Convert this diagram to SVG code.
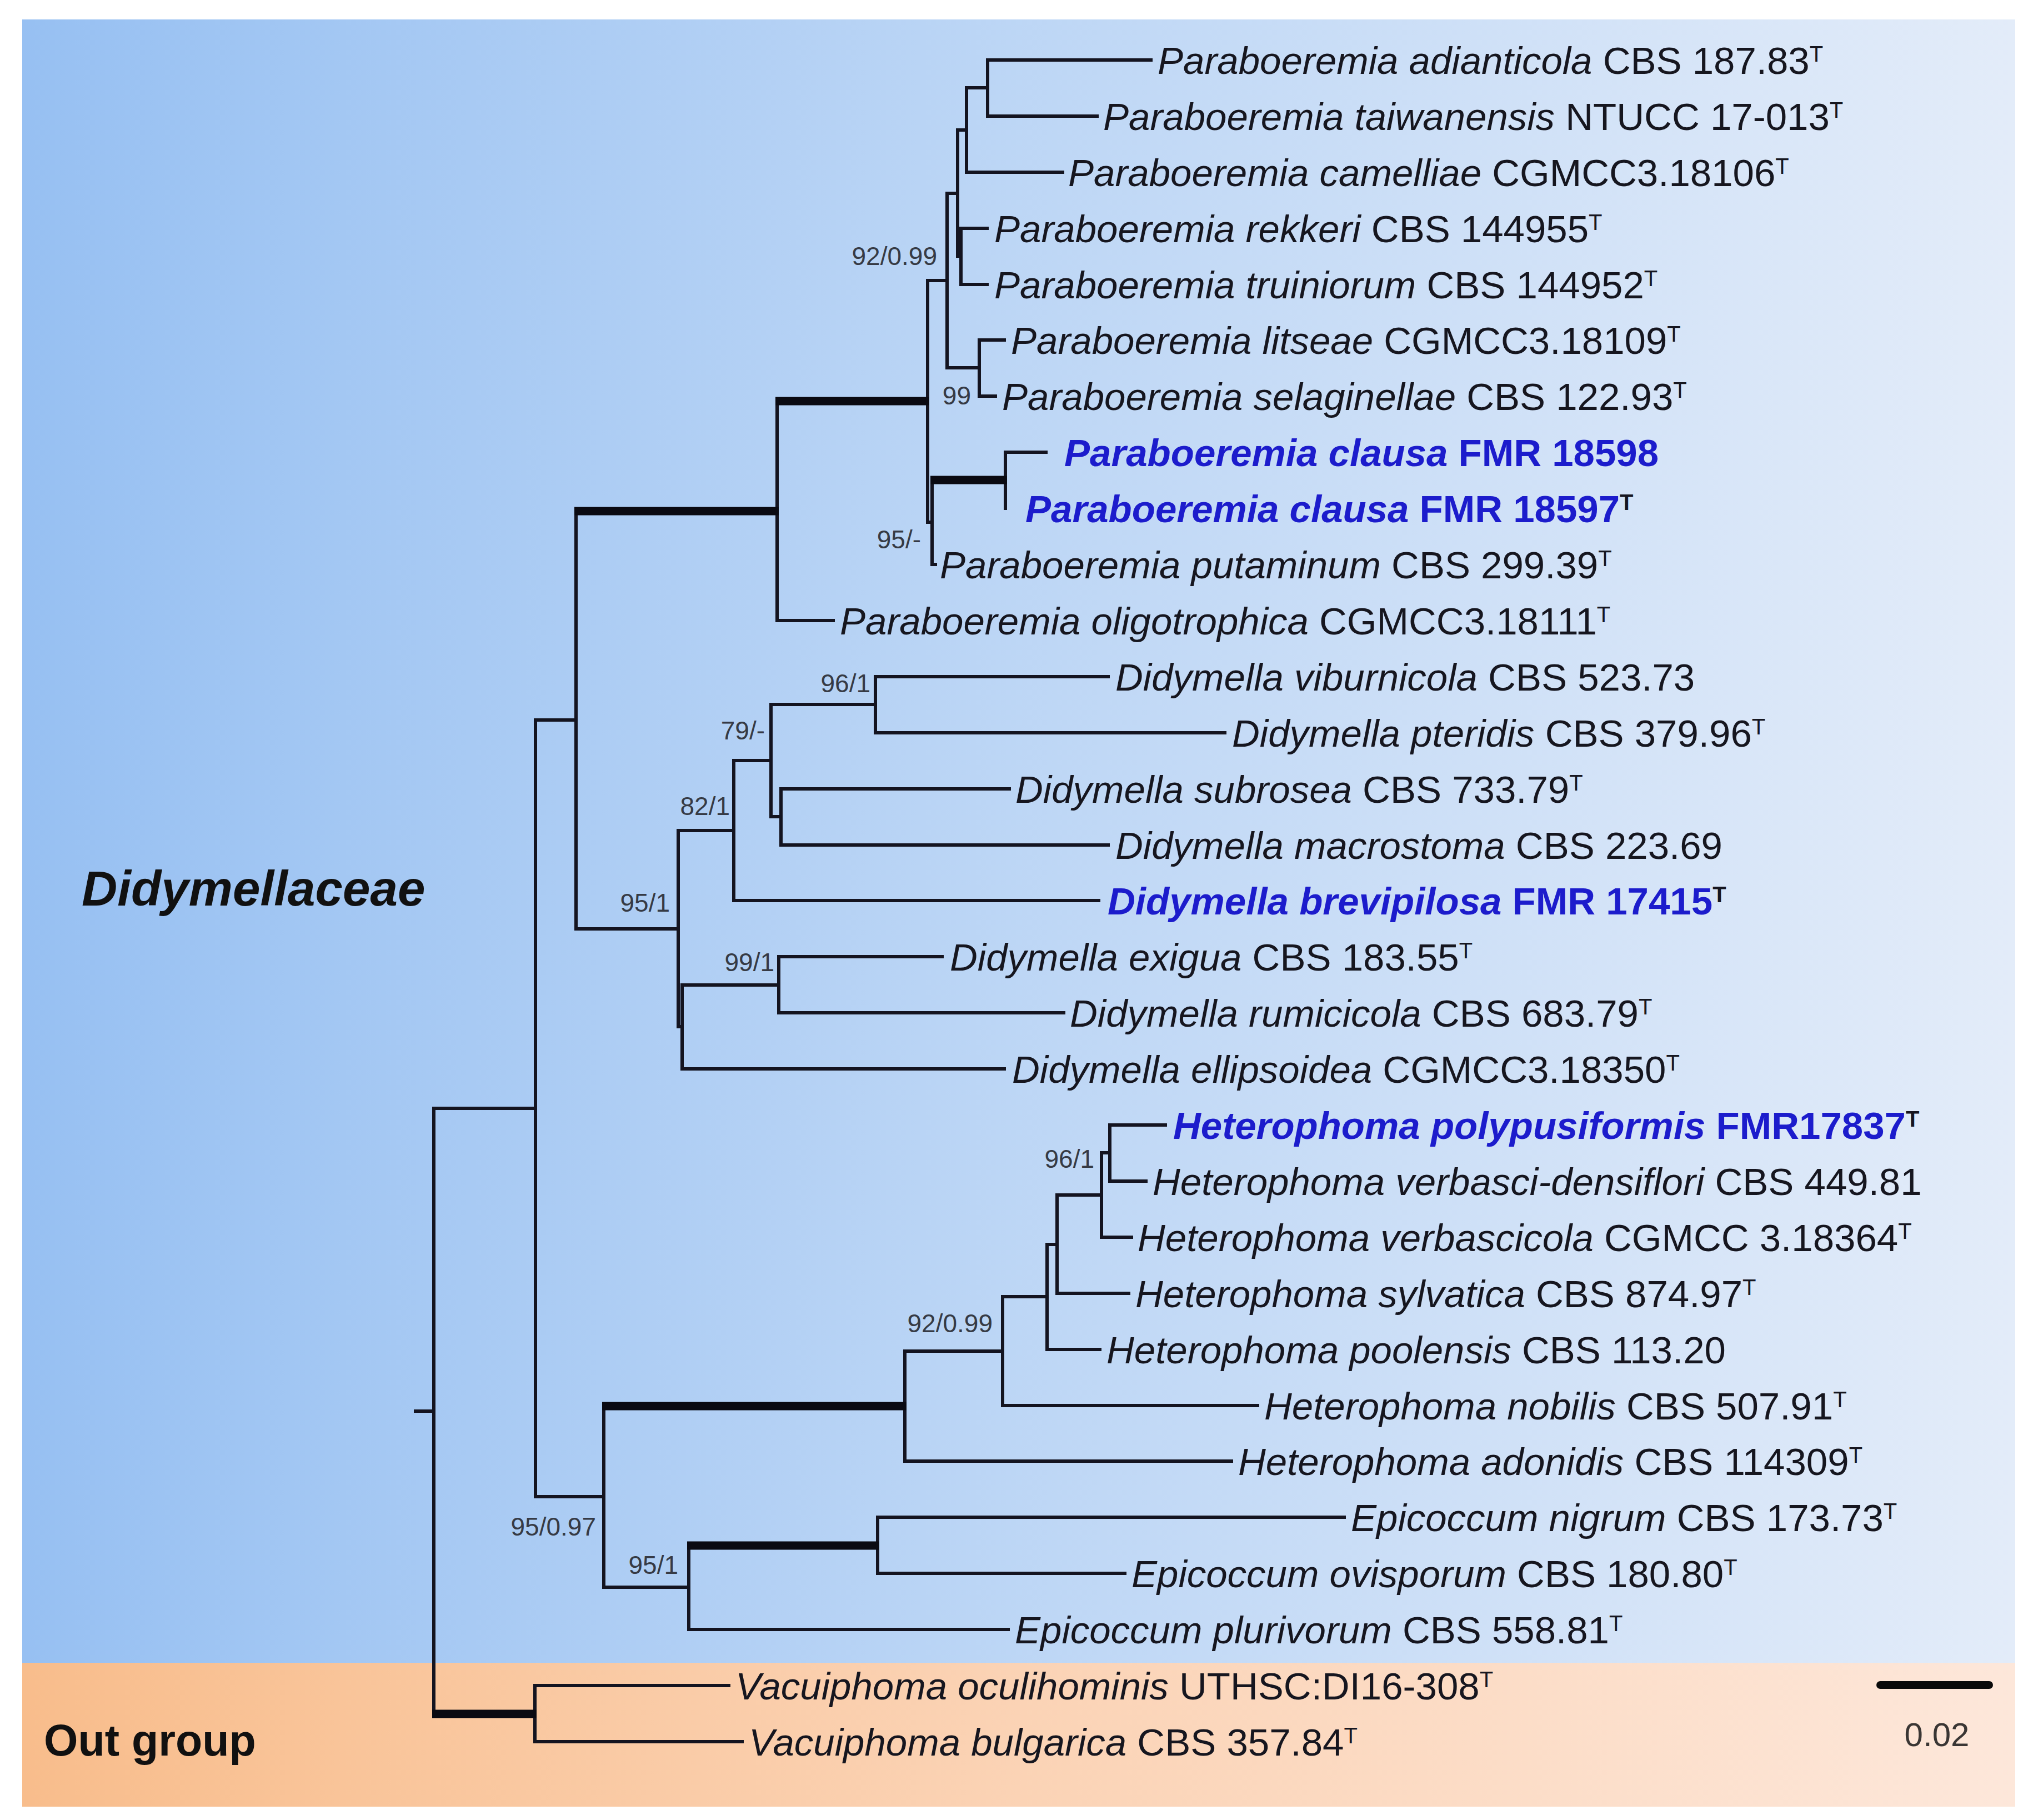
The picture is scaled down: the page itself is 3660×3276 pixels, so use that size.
<svg xmlns="http://www.w3.org/2000/svg" width="3660" height="3276" viewBox="0 0 3660 3276">
<defs>
<linearGradient id="gBlue" x1="0" y1="0" x2="1" y2="0">
<stop offset="0" stop-color="#97c0f2"/>
<stop offset="0.45" stop-color="#b9d4f5"/>
<stop offset="1" stop-color="#e3ecf9"/>
</linearGradient>
<linearGradient id="gOrange" x1="0" y1="0" x2="1" y2="0">
<stop offset="0" stop-color="#f8bd8c"/>
<stop offset="0.5" stop-color="#fbd3b5"/>
<stop offset="1" stop-color="#fde7da"/>
</linearGradient>
<style>
.br{fill:none;stroke:#141420;stroke-width:6;stroke-linecap:square}
.thick{fill:none;stroke:#0a0a12;stroke-width:15;stroke-linecap:butt}
.tip{font-family:"Liberation Sans",Arial,sans-serif;font-size:69px;fill:#16161f}
.sp{font-style:italic}
.sup{font-size:40px}
.new{fill:#1c1ccc;font-weight:bold}
.supk{fill:#16161f}
.bs{font-family:"Liberation Sans",Arial,sans-serif;font-size:46px;fill:#363a44;text-anchor:end}
.grp{font-family:"Liberation Sans",Arial,sans-serif;font-weight:bold;fill:#111}
</style>
</defs>
<rect x="0" y="0" width="3660" height="3276" fill="#ffffff"/>
<g id="background">
<rect x="40" y="35" width="3588" height="2958" fill="url(#gBlue)"/>
<rect x="40" y="2993" width="3588" height="259" fill="url(#gOrange)"/>
</g>
<g id="group-labels">
<text id="label-didymellaceae" class="grp" x="147" y="1630" font-size="89" font-style="italic">Didymellaceae</text>
<text id="label-outgroup" class="grp" x="79" y="3160" font-size="79">Out group</text>
</g>
<g id="connectors">
<path class="br" d="M748,2540 H781 M781,1995 V3085 M781,1995 H964 M964,1296 V2694 M964,1296 H1037 M964,2694 H1087 M1037,920 V1672 M1037,1672 H1221"/>
<path class="br" d="M1399,722 V1117 M1399,1117 H1500 M1670,505 V940 M1670,505 H1705 M1670,940 H1678 M1705,348 V662 M1705,348 H1724 M1705,662 H1763 M1724,234 V461 M1724,234 H1740 M1724,461 H1730 M1740,158 V310 M1740,158 H1778 M1740,310 H1913 M1778,108 V209 M1778,108 H2072 M1778,209 H1975 M1730,411 V512 M1730,411 H1777 M1730,512 H1777 M1763,612 V713 M1763,612 H1808 M1763,713 H1792 M1678,864 V1016 M1678,1016 H1684 M1810,814 V915 M1810,814 H1883"/>
<path class="br" d="M1221,1495 V1848 M1221,1495 H1321 M1221,1848 H1228 M1321,1369 V1621 M1321,1369 H1388 M1321,1621 H1978 M1388,1268 V1470 M1388,1268 H1576 M1388,1470 H1406 M1576,1218 V1319 M1576,1218 H1995 M1576,1319 H2205 M1406,1420 V1521 M1406,1420 H1817 M1406,1521 H1995 M1228,1773 V1924 M1228,1773 H1402 M1228,1924 H1808 M1402,1722 V1823 M1402,1722 H1696 M1402,1823 H1915"/>
<path class="br" d="M1087,2531 V2857 M1087,2857 H1240 M1629,2432 V2630 M1629,2432 H1805 M1629,2630 H2217 M1805,2334 V2530 M1805,2530 H2264 M1805,2334 H1885 M1885,2240 V2429 M1885,2429 H1980 M1885,2240 H1903 M1903,2151 V2328 M1903,2328 H2032 M1903,2151 H1983 M1983,2075 V2227 M1983,2227 H2037 M1983,2075 H1998 M1998,2025 V2126 M1998,2025 H2098 M1998,2126 H2063 M1240,2782 V2933 M1240,2933 H1815 M1580,2731 V2832 M1580,2731 H2420 M1580,2832 H2025 M963,3034 V3135 M963,3034 H1312 M963,3135 H1336"/>
<path class="thick" d="M1034,920 H1402 M1396,722 H1673 M1675,864 H1813 M1084,2531 H1632 M1237,2782 H1583 M778,3085 H966"/>
</g>
<g id="support-values">
<text class="bs" x="1687" y="477">92/0.99</text>
<text class="bs" x="1748" y="728">99</text>
<text class="bs" x="1658" y="987">95/-</text>
<text class="bs" x="1567" y="1246">96/1</text>
<text class="bs" x="1377" y="1331">79/-</text>
<text class="bs" x="1314" y="1467">82/1</text>
<text class="bs" x="1206" y="1641">95/1</text>
<text class="bs" x="1394" y="1748">99/1</text>
<text class="bs" x="1970" y="2102">96/1</text>
<text class="bs" x="1787" y="2398">92/0.99</text>
<text class="bs" x="1073" y="2764">95/0.97</text>
<text class="bs" x="1221" y="2833">95/1</text>
</g>
<g id="tips">
<g id="tip-01"><text class="tip" x="2084" y="133"><tspan class="sp">Paraboeremia adianticola</tspan> CBS 187.83<tspan class="sup" dy="-22">T</tspan></text></g>
<g id="tip-02"><text class="tip" x="1986" y="234"><tspan class="sp">Paraboeremia taiwanensis</tspan> NTUCC 17-013<tspan class="sup" dy="-22">T</tspan></text></g>
<g id="tip-03"><text class="tip" x="1923" y="335"><tspan class="sp">Paraboeremia camelliae</tspan> CGMCC3.18106<tspan class="sup" dy="-22">T</tspan></text></g>
<g id="tip-04"><text class="tip" x="1790" y="436"><tspan class="sp">Paraboeremia rekkeri</tspan> CBS 144955<tspan class="sup" dy="-22">T</tspan></text></g>
<g id="tip-05"><text class="tip" x="1790" y="537"><tspan class="sp">Paraboeremia truiniorum</tspan> CBS 144952<tspan class="sup" dy="-22">T</tspan></text></g>
<g id="tip-06"><text class="tip" x="1820" y="637"><tspan class="sp">Paraboeremia litseae</tspan> CGMCC3.18109<tspan class="sup" dy="-22">T</tspan></text></g>
<g id="tip-07"><text class="tip" x="1804" y="738"><tspan class="sp">Paraboeremia selaginellae</tspan> CBS 122.93<tspan class="sup" dy="-22">T</tspan></text></g>
<g id="tip-08"><text class="tip new" x="1916" y="839"><tspan class="sp">Paraboeremia clausa</tspan> FMR 18598</text></g>
<g id="tip-09"><text class="tip new" x="1846" y="940"><tspan class="sp">Paraboeremia clausa</tspan> FMR 18597<tspan class="sup supk" dy="-22">T</tspan></text></g>
<g id="tip-10"><text class="tip" x="1692" y="1041"><tspan class="sp">Paraboeremia putaminum</tspan> CBS 299.39<tspan class="sup" dy="-22">T</tspan></text></g>
<g id="tip-11"><text class="tip" x="1512" y="1142"><tspan class="sp">Paraboeremia oligotrophica</tspan> CGMCC3.18111<tspan class="sup" dy="-22">T</tspan></text></g>
<g id="tip-12"><text class="tip" x="2008" y="1243"><tspan class="sp">Didymella viburnicola</tspan> CBS 523.73</text></g>
<g id="tip-13"><text class="tip" x="2218" y="1344"><tspan class="sp">Didymella pteridis</tspan> CBS 379.96<tspan class="sup" dy="-22">T</tspan></text></g>
<g id="tip-14"><text class="tip" x="1828" y="1445"><tspan class="sp">Didymella subrosea</tspan> CBS 733.79<tspan class="sup" dy="-22">T</tspan></text></g>
<g id="tip-15"><text class="tip" x="2008" y="1546"><tspan class="sp">Didymella macrostoma</tspan> CBS 223.69</text></g>
<g id="tip-16"><text class="tip new" x="1994" y="1646"><tspan class="sp">Didymella brevipilosa</tspan> FMR 17415<tspan class="sup supk" dy="-22">T</tspan></text></g>
<g id="tip-17"><text class="tip" x="1710" y="1747"><tspan class="sp">Didymella exigua</tspan> CBS 183.55<tspan class="sup" dy="-22">T</tspan></text></g>
<g id="tip-18"><text class="tip" x="1926" y="1848"><tspan class="sp">Didymella rumicicola</tspan> CBS 683.79<tspan class="sup" dy="-22">T</tspan></text></g>
<g id="tip-19"><text class="tip" x="1822" y="1949"><tspan class="sp">Didymella ellipsoidea</tspan> CGMCC3.18350<tspan class="sup" dy="-22">T</tspan></text></g>
<g id="tip-20"><text class="tip new" x="2112" y="2050"><tspan class="sp">Heterophoma polypusiformis</tspan> FMR17837<tspan class="sup supk" dy="-22">T</tspan></text></g>
<g id="tip-21"><text class="tip" x="2075" y="2151"><tspan class="sp">Heterophoma verbasci-densiflori</tspan> CBS 449.81</text></g>
<g id="tip-22"><text class="tip" x="2048" y="2252"><tspan class="sp">Heterophoma verbascicola</tspan> CGMCC 3.18364<tspan class="sup" dy="-22">T</tspan></text></g>
<g id="tip-23"><text class="tip" x="2044" y="2353"><tspan class="sp">Heterophoma sylvatica</tspan> CBS 874.97<tspan class="sup" dy="-22">T</tspan></text></g>
<g id="tip-24"><text class="tip" x="1992" y="2454"><tspan class="sp">Heterophoma poolensis</tspan> CBS 113.20</text></g>
<g id="tip-25"><text class="tip" x="2276" y="2555"><tspan class="sp">Heterophoma nobilis</tspan> CBS 507.91<tspan class="sup" dy="-22">T</tspan></text></g>
<g id="tip-26"><text class="tip" x="2229" y="2655"><tspan class="sp">Heterophoma adonidis</tspan> CBS 114309<tspan class="sup" dy="-22">T</tspan></text></g>
<g id="tip-27"><text class="tip" x="2432" y="2756"><tspan class="sp">Epicoccum nigrum</tspan> CBS 173.73<tspan class="sup" dy="-22">T</tspan></text></g>
<g id="tip-28"><text class="tip" x="2037" y="2857"><tspan class="sp">Epicoccum ovisporum</tspan> CBS 180.80<tspan class="sup" dy="-22">T</tspan></text></g>
<g id="tip-29"><text class="tip" x="1827" y="2958"><tspan class="sp">Epicoccum plurivorum</tspan> CBS 558.81<tspan class="sup" dy="-22">T</tspan></text></g>
<g id="tip-30"><text class="tip" x="1324" y="3059"><tspan class="sp">Vacuiphoma oculihominis</tspan> UTHSC:DI16-308<tspan class="sup" dy="-22">T</tspan></text></g>
<g id="tip-31"><text class="tip" x="1348" y="3160"><tspan class="sp">Vacuiphoma bulgarica</tspan> CBS 357.84<tspan class="sup" dy="-22">T</tspan></text></g>
</g>
<g id="scale-bar">
<path d="M3385,3033 H3581" fill="none" stroke="#0a0a0a" stroke-width="14" stroke-linecap="round"/>
<text x="3487" y="3143" font-family="Liberation Sans, Arial, sans-serif" font-size="60" fill="#3a3634" text-anchor="middle">0.02</text>
</g>
</svg>
